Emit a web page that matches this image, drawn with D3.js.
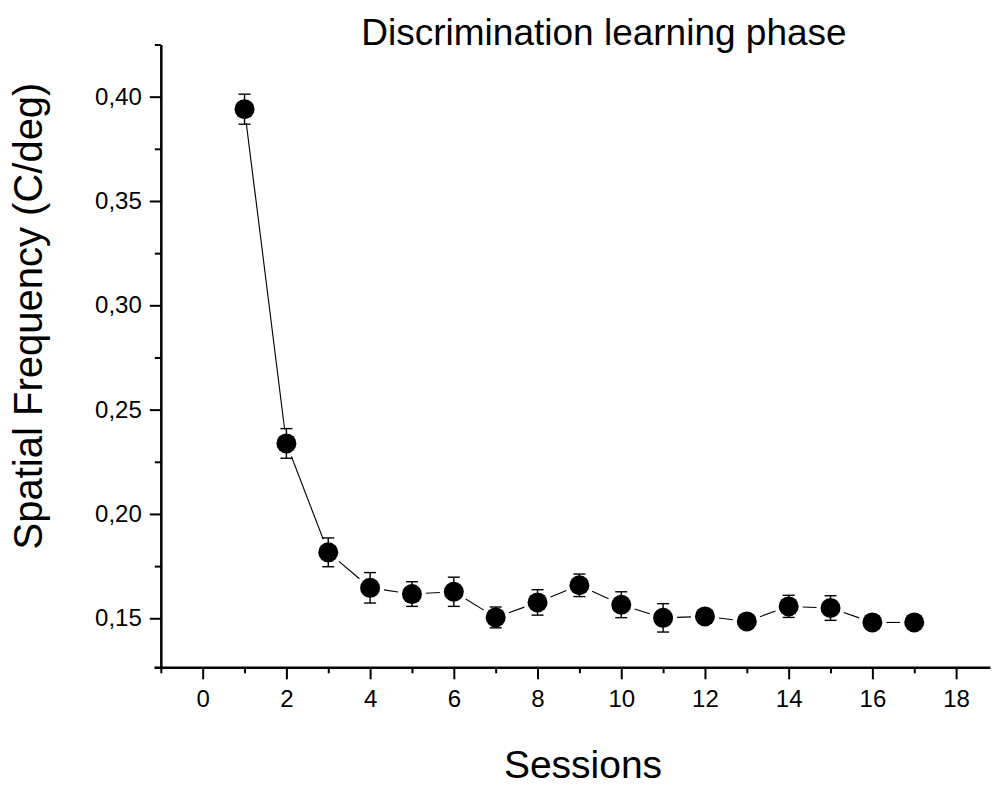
<!DOCTYPE html>
<html>
<head>
<meta charset="utf-8">
<script src="https://cdn.jsdelivr.net/npm/d3@7"></script>
<style>
  html, body { margin: 0; padding: 0; background: #fff; }
  svg { display: block; }
  text { font-family: "Liberation Sans", Arial, sans-serif; fill: #000; }
</style>
</head>
<body>
<svg id="chart" width="992" height="787"></svg>
<script>
// Discrimination learning: mean threshold per session with SEM
const sessions = [1, 2, 3, 4, 5, 6, 7, 8, 9, 10, 11, 12, 13, 14, 15, 16, 17];
const meanFreq = [0.394, 0.2338, 0.1816, 0.1646, 0.1616, 0.1627, 0.1504, 0.1576, 0.1658,
                  0.1565, 0.1502, 0.1509, 0.1485, 0.1557, 0.1549, 0.148, 0.148];
const semFreq = [0.0072, 0.0071, 0.0069, 0.0073, 0.0059, 0.007, 0.005, 0.0061, 0.0054,
                 0.0062, 0.0068, 0.003, 0.003, 0.0053, 0.0059, 0.003, 0.003];
const xMajorTicks = [0, 2, 4, 6, 8, 10, 12, 14, 16, 18];
const xMinorTicks = [-1, 1, 3, 5, 7, 9, 11, 13, 15, 17];
const yMajorTicks = [0.15, 0.20, 0.25, 0.30, 0.35, 0.40];
const yMinorTicks = [0.175, 0.225, 0.275, 0.325, 0.375, 0.425];

const svg = d3.select("#chart");

const x = d3.scaleLinear().domain([-1.163, 18.81]).range([154, 990]);
const y = d3.scaleLinear().domain([0.1265, 0.425]).range([667.3, 44.5]);
const fmt = v => d3.format(".2f")(v).replace(".", ",");

const axisX0 = y.range()[0];
const axisY0 = x(-1);

// x axis: minor ticks first, then major ticks with labels
const gxMinor = svg.append("g").attr("transform", `translate(0,${axisX0})`)
  .call(d3.axisBottom(x).tickValues(xMinorTicks).tickSize(6).tickSizeOuter(0).tickFormat(""));
const gx = svg.append("g").attr("transform", `translate(0,${axisX0})`)
  .call(d3.axisBottom(x).tickValues(xMajorTicks).tickSize(12).tickSizeOuter(0).tickPadding(11));

// y axis
const gyMinor = svg.append("g").attr("transform", `translate(${axisY0},0)`)
  .call(d3.axisLeft(y).tickValues(yMinorTicks).tickSize(6).tickSizeOuter(0).tickFormat(""));
const gy = svg.append("g").attr("transform", `translate(${axisY0},0)`)
  .call(d3.axisLeft(y).tickValues(yMajorTicks).tickSize(11).tickSizeOuter(0).tickPadding(8).tickFormat(fmt));

[gxMinor, gx, gyMinor, gy].forEach(g => {
  g.attr("font-size", null).attr("font-family", null);
  g.select(".domain").attr("stroke", "#000").attr("stroke-width", 2.5);
  g.selectAll(".tick line").attr("stroke", "#000").attr("stroke-width", 2);
  g.selectAll(".tick text")
    .attr("fill", "#000")
    .style("font-family", "'Liberation Sans', Arial, sans-serif")
    .style("font-size", "24px");
});
gyMinor.select(".domain").remove();
gxMinor.select(".domain").remove();

const pts = sessions.map((s, i) => ({ s, m: meanFreq[i], e: semFreq[i] }));
const r = 10;
const gap = r + 4;

// connecting line segments, stopping short of each marker
const segs = d3.pairs(pts);
svg.append("g").selectAll("line").data(segs).join("line")
  .each(function ([a, b]) {
    const x1 = x(a.s), y1 = y(a.m), x2 = x(b.s), y2 = y(b.m);
    const len = Math.hypot(x2 - x1, y2 - y1);
    const ux = (x2 - x1) / len, uy = (y2 - y1) / len;
    d3.select(this)
      .attr("x1", x1 + ux * gap).attr("y1", y1 + uy * gap)
      .attr("x2", x2 - ux * gap).attr("y2", y2 - uy * gap);
  })
  .attr("stroke", "#000").attr("stroke-width", 1.1);

// error bars
const eb = svg.append("g").attr("stroke", "#000").attr("stroke-width", 1.4);
eb.selectAll("line.v").data(pts).join("line").attr("class", "v")
  .attr("x1", d => x(d.s)).attr("x2", d => x(d.s))
  .attr("y1", d => y(d.m + d.e)).attr("y2", d => y(d.m - d.e));
eb.selectAll("line.top").data(pts).join("line").attr("class", "top")
  .attr("x1", d => x(d.s) - 6).attr("x2", d => x(d.s) + 6)
  .attr("y1", d => y(d.m + d.e)).attr("y2", d => y(d.m + d.e));
eb.selectAll("line.bot").data(pts).join("line").attr("class", "bot")
  .attr("x1", d => x(d.s) - 6).attr("x2", d => x(d.s) + 6)
  .attr("y1", d => y(d.m - d.e)).attr("y2", d => y(d.m - d.e));

// markers
svg.append("g").selectAll("circle").data(pts).join("circle")
  .attr("cx", d => x(d.s)).attr("cy", d => y(d.m)).attr("r", r)
  .attr("fill", "#000");

// titles
svg.append("text").attr("x", 604).attr("y", 45).attr("text-anchor", "middle")
  .style("font-size", "37px").text("Discrimination learning phase");
svg.append("text").attr("x", 583).attr("y", 778).attr("text-anchor", "middle")
  .style("font-size", "39px").text("Sessions");
svg.append("text").attr("transform", "translate(42,316) rotate(-90)").attr("text-anchor", "middle")
  .style("font-size", "40px").text("Spatial Frequency (C/deg)");
</script>
</body>
</html>
